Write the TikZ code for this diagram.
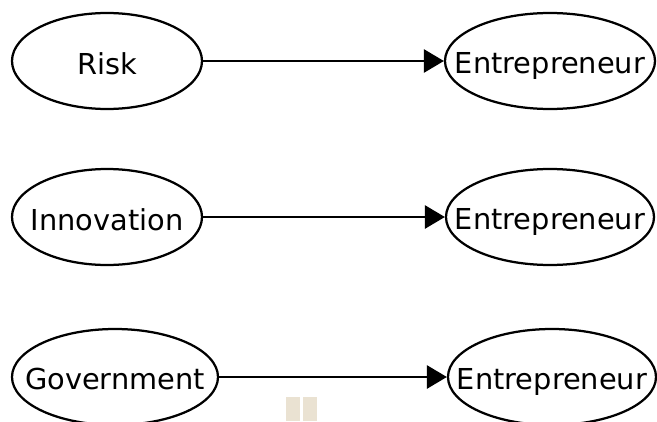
\documentclass[tikz,border=0pt]{standalone}
\usepackage{fontspec}
\setmainfont{DejaVu Sans}
\usepackage{tikz}
\usetikzlibrary{arrows.meta,shapes.geometric}
\definecolor{sandmark}{HTML}{EAE2D2}

\begin{document}
\begin{tikzpicture}[line cap=round,line join=round,
  font=\fontsize{20.5}{24}\selectfont,
  every label/.style={text depth=0pt,yshift=-1.5pt},
  oval/.style={ellipse,draw=black,line width=1.6pt,fill=white,inner sep=0pt,minimum height=2.4cm},
  cause/.style={oval,minimum width=4.75cm},
  effect/.style={oval,minimum width=5.2cm},
  arr/.style={-{Triangle[length=5mm,width=5.8mm]},black,line width=1.5pt}]
\path[use as bounding box] (0,0) rectangle (16.425,10.525);
\fill[white] (0,0) rectangle (16.425,10.525);
% faint marks near the bottom edge
\fill[sandmark] (7.15,0) rectangle (7.5,.6);
\fill[sandmark] (7.575,0) rectangle (7.925,.6);
\node[cause,label=center:{Risk}] (risk) at (2.675,9.0) {};
\node[effect,minimum width=5.25cm,label=center:{Entrepreneur}] (ent1) at (13.75,9.0) {};
\node[cause,label=center:{Innovation}] (innov) at (2.675,5.1) {};
\node[effect,label=center:{Entrepreneur}] (ent2) at (13.75,5.1) {};
\node[cause,minimum width=5.15cm,label=center:{Government}] (gov) at (2.875,1.1) {};
\node[effect,label=center:{Entrepreneur}] (ent3) at (13.8,1.1) {};
\draw[arr] (risk)--(ent1);
\draw[arr] (innov)--(ent2);
\draw[arr] (gov)--(ent3);
\end{tikzpicture}
\end{document}
